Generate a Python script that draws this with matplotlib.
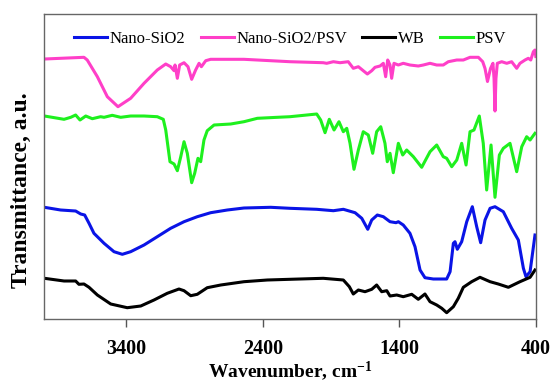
import matplotlib
matplotlib.use("Agg")
import matplotlib.pyplot as plt

plt.rcParams['font.family'] = ['Liberation Serif', 'DejaVu Serif']
plt.rcParams['mathtext.fontset'] = 'custom'
plt.rcParams['mathtext.rm'] = 'Liberation Serif:bold'
plt.rcParams['mathtext.it'] = 'Liberation Serif:bold'
plt.rcParams['mathtext.bf'] = 'Liberation Serif:bold'

# ---- data (wavenumber, cm-1 ; transmittance, arbitrary offset units) ----
pink_wn = [4000, 3710, 3686, 3612, 3539, 3461, 3368, 3270, 3173, 3111, 3075, 3050, 3043, 3026, 3009,
           2977, 2948, 2921, 2892, 2867, 2850, 2818, 2782, 2538, 2201, 1957, 1932, 1883, 1834, 1774,
           1737, 1700, 1664, 1634, 1602, 1578, 1541, 1517, 1500, 1485, 1468, 1456, 1439, 1407, 1371,
           1322, 1261, 1224, 1175, 1126, 1078, 1041, 979, 931, 882, 821, 789, 772, 754, 732, 714, 706,
           699, 692, 682, 650, 613, 577, 540, 516, 479, 455, 437, 418, 406, 400]
pink_t = [259.5, 261.2, 258.5, 241.8, 221.8, 211.8, 220.2, 235.2, 248.5, 254.5, 251.8, 247.8, 253.5, 240.2, 253.5,
          255.8, 251.8, 239.2, 248.5, 255.2, 251.8, 257.8, 259.2, 259.2, 256.8, 255.8, 255.2, 256.8, 255.8, 256.8,
          250.2, 251.8, 247.8, 244.5, 247.8, 251.2, 252.5, 255.2, 241.8, 258.5, 253.5, 240.2, 255.2, 253.5, 255.2,
          253.5, 252.5, 253.5, 255.2, 253.5, 253.5, 256.8, 258.5, 258.5, 261.2, 261.2, 256.8, 250.0, 237.0, 250.0, 255.2, 240.0,
          207.5, 240.0, 255.2, 256.8, 255.2, 256.8, 250.2, 255.2, 258.5, 260.2, 258.5, 266.8, 268.5, 262.0]

green_wn = [4000, 3856, 3807, 3771, 3739, 3697, 3649, 3588, 3563, 3503, 3441, 3368, 3270, 3173, 3129,
            3111, 3080, 3050, 3026, 3001, 2977, 2953, 2921, 2899, 2875, 2855, 2831, 2807, 2757, 2635,
            2538, 2440, 2294, 2201, 2005, 1976, 1944, 1913, 1878, 1842, 1810, 1785, 1761, 1732, 1700,
            1664, 1627, 1595, 1566, 1536, 1505, 1488, 1468, 1444, 1407, 1375, 1346, 1297, 1236, 1175,
            1126, 1078, 1053, 1016, 979, 943, 911, 882, 853, 814, 785, 760, 728, 699, 667, 638, 589,
            540, 503, 467, 442, 406]
green_t = [202.5, 199.2, 201.2, 203.5, 198.5, 202.5, 199.8, 201.8, 201.2, 203.2, 201.2, 202.5, 202.5, 201.8, 199.2,
           188.5, 156.8, 154.5, 147.8, 161.8, 176.8, 165.2, 135.8, 145.2, 160.2, 156.8, 178.5, 187.8, 193.5, 194.5,
           196.8, 200.2, 201.2, 201.8, 204.5, 198.5, 185.8, 199.2, 188.5, 196.8, 186.8, 190.2, 175.2, 149.2, 168.5,
           186.8, 183.5, 165.2, 186.8, 191.8, 175.2, 156.8, 165.2, 145.8, 175.2, 163.5, 168.5, 161.8, 151.2, 166.8,
           173.5, 161.8, 160.2, 151.8, 158.5, 175.2, 153.5, 186.8, 188.5, 202.5, 175.2, 128.5, 173.5, 121.2, 163.5, 170.2, 175.2,
           146.8, 171.8, 181.8, 178.5, 185.2]

blue_wn = [4000, 3881, 3771, 3734, 3705, 3673, 3637, 3563, 3490, 3429, 3368, 3270, 3173, 3075, 2977,
           2880, 2782, 2660, 2538, 2342, 2201, 2005, 1883, 1810, 1724, 1675, 1631, 1602, 1561, 1517,
           1468, 1424, 1407, 1371, 1322, 1285, 1248, 1212, 1151, 1053, 1028, 1004, 992, 975, 943, 906,
           865, 833, 804, 772, 735, 699, 638, 577, 528, 491, 472, 442, 406]
blue_t = [111.2, 108.5, 107.5, 104.5, 103.5, 95.2, 85.2, 75.2, 66.8, 64.2, 66.8, 73.5, 81.8, 90.2, 96.8,
          101.8, 105.8, 108.5, 110.5, 111.2, 110.2, 109.2, 107.8, 109.2, 105.8, 100.2, 89.2, 98.5, 103.5, 101.8,
          96.8, 95.8, 96.8, 93.5, 85.2, 71.8, 48.5, 40.8, 39.5, 39.5, 46.8, 75.2, 76.8, 69.2, 76.8, 96.8,
          111.8, 91.8, 75.8, 98.5, 110.2, 111.8, 106.8, 90.2, 78.5, 50.2, 41.8, 46.8, 83.5]

black_wn = [4000, 3856, 3771, 3747, 3710, 3673, 3612, 3514, 3393, 3294, 3197, 3100, 3014, 2977, 2928,
            2880, 2807, 2708, 2538, 2367, 2201, 1957, 1810, 1766, 1737, 1700, 1651, 1602, 1566, 1529,
            1492, 1468, 1419, 1371, 1309, 1261, 1212, 1175, 1126, 1089, 1053, 1004, 968, 931, 870, 809,
            735, 675, 601, 516, 442, 406]
black_t = [40.2, 37.5, 37.5, 34.2, 34.5, 31.2, 23.5, 14.5, 10.8, 12.5, 18.5, 25.2, 29.5, 27.8, 22.8,
           24.2, 30.8, 33.5, 36.8, 38.5, 39.2, 40.2, 38.5, 31.8, 24.5, 28.5, 26.8, 29.2, 33.5, 26.8,
           27.8, 22.5, 23.5, 21.8, 24.2, 19.2, 24.5, 16.8, 13.5, 10.2, 5.8, 11.8, 20.2, 31.2, 36.8, 41.2,
           36.8, 34.5, 31.2, 36.8, 41.2, 48.5]

series_names = ['Nano-SiO2', 'Nano-SiO2/PSV', 'WB', 'PSV']
xticks = [3400, 2400, 1400, 400]

fig = plt.figure(figsize=(5.5, 3.87), dpi=100)
ax = fig.add_axes([0.0807, 0.177, 0.8935, 0.7868])

lw = 2.2
ax.plot(blue_wn, blue_t, color='#0a14e6', lw=lw, label=series_names[0])
ax.plot(pink_wn, pink_t, color='#ff3fc8', lw=lw, label=series_names[1])
ax.plot(black_wn, black_t, color='#000000', lw=lw, label=series_names[2])
ax.plot(green_wn, green_t, color='#1ef01e', lw=lw, label=series_names[3])

ax.set_xlim(4000, 400)
ax.set_ylim(0, 304.5)
ax.set_xticks(xticks)
ax.set_xticklabels([str(t) for t in xticks], fontsize=14.5, fontweight='bold')
ax.set_yticks([])
ax.tick_params(axis='x', direction='out', length=6, width=1, color='#555555', pad=9)
for s in ax.spines.values():
    s.set_color('#666666')
    s.set_linewidth(1.0)

ax.set_xlabel('Wavenumber, cm$^{-1}$', fontsize=14, fontweight='bold', labelpad=0)
ax.set_ylabel('Transmittance, a.u.', fontsize=17, fontweight='bold')
ax.yaxis.set_label_coords(-0.025, 0.42)

leg = ax.legend(loc='upper center', bbox_to_anchor=(0.5, 1.0), ncol=4, frameon=False,
                fontsize=12, handlelength=2.0, handletextpad=0.15, columnspacing=0.9,
                borderaxespad=0.6)

fig.savefig('out.png', dpi=100)
